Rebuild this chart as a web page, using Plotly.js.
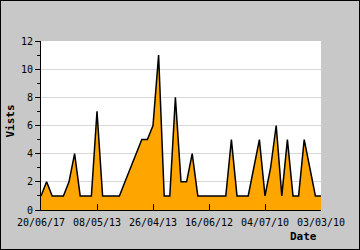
<!DOCTYPE html>
<html>
<head>
<meta charset="utf-8">
<script src="https://cdn.plot.ly/plotly-3.0.1.min.js"></script>
<style>
  html, body { margin: 0; padding: 0; background: #c8c8c8; }
  #chart { position: absolute; left: 0; top: 0; width: 360px; height: 250px; }
  #frame { position: absolute; left: 0; top: 0; width: 360px; height: 250px; box-sizing: border-box; border: 1px solid #000; pointer-events: none; }
</style>
</head>
<body>
<div id="chart"></div>
<div id="frame"></div>
<script>
// Visits per point (newest on the left, oldest on the right)
const visits = [1,2,1,1,1,2,4,1,1,1,7,1,1,1,1,2,3,4,5,5,6,11,1,1,8,2,2,4,1,1,1,1,1,1,5,1,1,1,3,5,1,3,6,1,5,1,1,5,3,1,1];
// Date tick labels, one every 10 points
const tickLabels = ["20/06/17","08/05/13","26/04/13","16/06/12","04/07/10","03/03/10"];
const tickEvery = 10;

const xs = visits.map((_, i) => i);
const tickPositions = tickLabels.map((_, k) => k * tickEvery);

const mono = "DejaVu Sans Mono, monospace";

const trace = {
  x: xs,
  y: visits,
  type: "scatter",
  mode: "lines",
  fill: "tozeroy",
  fillcolor: "#ffa500",
  line: { color: "#000000", width: 1.5 },
  hoverinfo: "skip"
};

const layout = {
  width: 360,
  height: 250,
  margin: { l: 41, r: 39, t: 41, b: 40, pad: 0 },
  paper_bgcolor: "#c8c8c8",
  plot_bgcolor: "#ffffff",
  showlegend: false,
  font: { family: mono, size: 10, color: "#000" },
  xaxis: {
    range: [0, visits.length - 1],
    tickmode: "array",
    tickvals: tickPositions,
    ticktext: tickLabels,
    ticks: "inside",
    ticklen: 6,
    tickcolor: "#000",
    tickwidth: 1,
    ticklabelstandoff: 3,
    showgrid: false,
    zeroline: false,
    showline: true,
    linecolor: "#000",
    linewidth: 1,
    tickfont: { family: mono, size: 10, color: "#000" },
    fixedrange: true
  },
  yaxis: {
    range: [0, 12],
    dtick: 2,
    tick0: 0,
    ticks: "outside",
    ticklen: 5,
    tickcolor: "#000",
    tickwidth: 1,
    showgrid: true,
    gridcolor: "#d8d8d8",
    gridwidth: 1,
    zeroline: false,
    showline: true,
    linecolor: "#000",
    linewidth: 1,
    tickfont: { family: mono, size: 10, color: "#000" },
    minor: { dtick: 1, ticks: "outside", ticklen: 3, tickcolor: "#000", showgrid: false },
    fixedrange: true
  },
  annotations: [
    {
      text: "<b>Date</b>",
      xref: "paper", yref: "paper",
      x: 1, y: 0,
      xanchor: "right", yanchor: "middle",
      xshift: -2, yshift: -26,
      showarrow: false,
      font: { family: mono, size: 11, color: "#000" }
    },
    {
      text: "<b>Vists</b>",
      xref: "paper", yref: "paper",
      x: 0, y: 0.5,
      xanchor: "center", yanchor: "middle",
      xshift: -31, yshift: 4,
      textangle: -90,
      showarrow: false,
      font: { family: mono, size: 11, color: "#000" }
    }
  ]
};

Plotly.newPlot("chart", [trace], layout, { staticPlot: true, displayModeBar: false });
</script>
</body>
</html>
